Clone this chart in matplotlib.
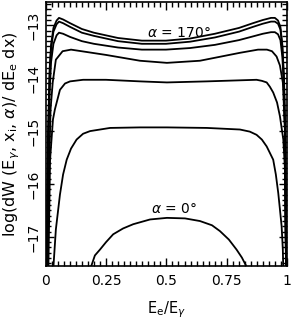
#!/usr/bin/env python
# Emission spectra for several photon angles alpha

import matplotlib
matplotlib.use("Agg")
import matplotlib.pyplot as plt
from matplotlib.ticker import MultipleLocator

################################################################################
# Data
x_a170 = [0.003, 0.008, 0.015, 0.021, 0.031, 0.044, 0.054, 0.071, 0.100, 0.149,
          0.199, 0.299, 0.398, 0.498, 0.598, 0.701, 0.801, 0.859, 0.900, 0.934,
          0.950, 0.963, 0.973, 0.981, 0.988, 0.993, 0.997]
y_a170 = [-18.2, -15.16, -13.84, -13.37, -13.05, -12.91, -12.86, -12.89, -12.96,
          -13.07, -13.14, -13.24, -13.29, -13.29, -13.25, -13.16, -13.05, -12.96,
          -12.90, -12.86, -12.86, -12.91, -13.03, -13.37, -14.03, -15.16, -18.2]

x_a150 = x_a170
y_a150 = [-18.2, -15.3, -14.0, -13.45, -13.12, -12.98, -12.93, -12.96, -13.03,
          -13.14, -13.20, -13.30, -13.35, -13.35, -13.31, -13.23, -13.12, -13.03,
          -12.97, -12.93, -12.93, -12.97, -13.08, -13.42, -14.08, -15.2, -18.2]

x_a120 = x_a170
y_a120 = [-18.2, -15.5, -14.3, -13.7, -13.35, -13.19, -13.14, -13.16, -13.22,
          -13.30, -13.35, -13.42, -13.46, -13.46, -13.43, -13.37, -13.28, -13.21,
          -13.16, -13.13, -13.13, -13.17, -13.28, -13.60, -14.2, -15.3, -18.2]

x_a90 = [0.004, 0.010, 0.019, 0.028, 0.041, 0.069, 0.104, 0.162, 0.249, 0.390,
         0.502, 0.639, 0.805, 0.880, 0.917, 0.938, 0.957, 0.971, 0.983, 0.992,
         0.997]
y_a90 = [-18.2, -16.29, -14.59, -14.08, -13.65, -13.49, -13.46, -13.50, -13.56,
         -13.67, -13.71, -13.67, -13.52, -13.46, -13.46, -13.49, -13.59, -13.76,
         -14.08, -14.97, -18.2]

x_a60 = [0.008, 0.017, 0.029, 0.037, 0.058, 0.079, 0.100, 0.154, 0.249, 0.390,
         0.502, 0.668, 0.805, 0.874, 0.896, 0.916, 0.929, 0.943, 0.959, 0.971,
         0.985, 0.992, 0.998]
y_a60 = [-18.2, -15.54, -14.78, -14.59, -14.22, -14.10, -14.06, -14.03, -14.03,
         -14.06, -14.08, -14.06, -14.04, -14.03, -14.05, -14.08, -14.16, -14.27,
         -14.46, -14.72, -15.16, -15.73, -18.2]

x_a30 = [0.029, 0.041, 0.058, 0.071, 0.086, 0.104, 0.127, 0.154, 0.183, 0.266,
         0.390, 0.502, 0.668, 0.805, 0.846, 0.874, 0.896, 0.916, 0.929, 0.943,
         0.954, 0.964, 0.971, 0.978, 0.983, 0.985]
y_a30 = [-17.7, -16.86, -16.20, -15.82, -15.54, -15.33, -15.16, -15.05, -15.00,
         -14.94, -14.93, -14.93, -14.94, -14.97, -15.01, -15.07, -15.16, -15.29,
         -15.41, -15.54, -15.82, -16.17, -16.48, -16.80, -17.24, -17.62]

x_a0 = [0.176, 0.203, 0.224, 0.249, 0.279, 0.320, 0.362, 0.432, 0.502, 0.577,
        0.639, 0.689, 0.722, 0.759, 0.791, 0.813, 0.830, 0.836]
y_a0 = [-17.71, -17.35, -17.24, -17.10, -16.95, -16.84, -16.76, -16.67, -16.64,
        -16.65, -16.70, -16.78, -16.89, -17.05, -17.24, -17.39, -17.54, -17.71]

curves = [(x_a170, y_a170), (x_a150, y_a150), (x_a120, y_a120), (x_a90, y_a90),
          (x_a60, y_a60), (x_a30, y_a30), (x_a0, y_a0)]

x_ticks = [0, 0.25, 0.5, 0.75, 1]
x_ticklabels = ["0", "0.25", "0.5", "0.75", "1"]
y_ticks = [-13, -14, -15, -16, -17]
################################################################################

LINE_WIDTH = 1.3
FONT_SIZE = 10

fig = plt.figure(figsize=(2.91, 3.25), dpi=100)
ax = fig.add_axes([0.158, 0.1815, 0.828, 0.8123])

for xs, ys in curves:
    ax.plot(xs, ys, color="black", linewidth=LINE_WIDTH, solid_joinstyle="round")

ax.text(0.552, -13.14, r"$\alpha$ = 170°", ha="center", va="center",
        fontsize=FONT_SIZE)
ax.text(0.53, -16.48, r"$\alpha$ = 0°", ha="center", va="center",
        fontsize=FONT_SIZE)

ax.set_xlim(0, 1)
ax.set_ylim(-17.55, -12.56)

ax.set_xticks(x_ticks)
ax.set_xticklabels(x_ticklabels)
ax.set_yticks(y_ticks)
ax.set_yticklabels([u"\u2212%d" % abs(t) for t in y_ticks], rotation=90,
                   va="center")
ax.xaxis.set_minor_locator(MultipleLocator(0.025))
ax.yaxis.set_minor_locator(MultipleLocator(0.1))

ax.tick_params(which="both", direction="in", top=True, right=True,
               labelsize=FONT_SIZE, width=1.0)
ax.tick_params(which="major", length=6)
ax.tick_params(which="minor", length=3.5)
ax.tick_params(axis="x", pad=6)
ax.tick_params(axis="y", pad=4)
for sp in ax.spines.values():
    sp.set_linewidth(1.2)

ax.set_xlabel(r"E$_{\rm e}$/E$_\gamma$", fontsize=10.5, labelpad=8)
ax.set_ylabel(r"log(dW (E$_\gamma$, x$_{\rm i}$, $\alpha$)/ dE$_{\rm e}$ dx)",
              fontsize=11.5, labelpad=3)

plt.savefig("out.png", dpi=100)
plt.close()
